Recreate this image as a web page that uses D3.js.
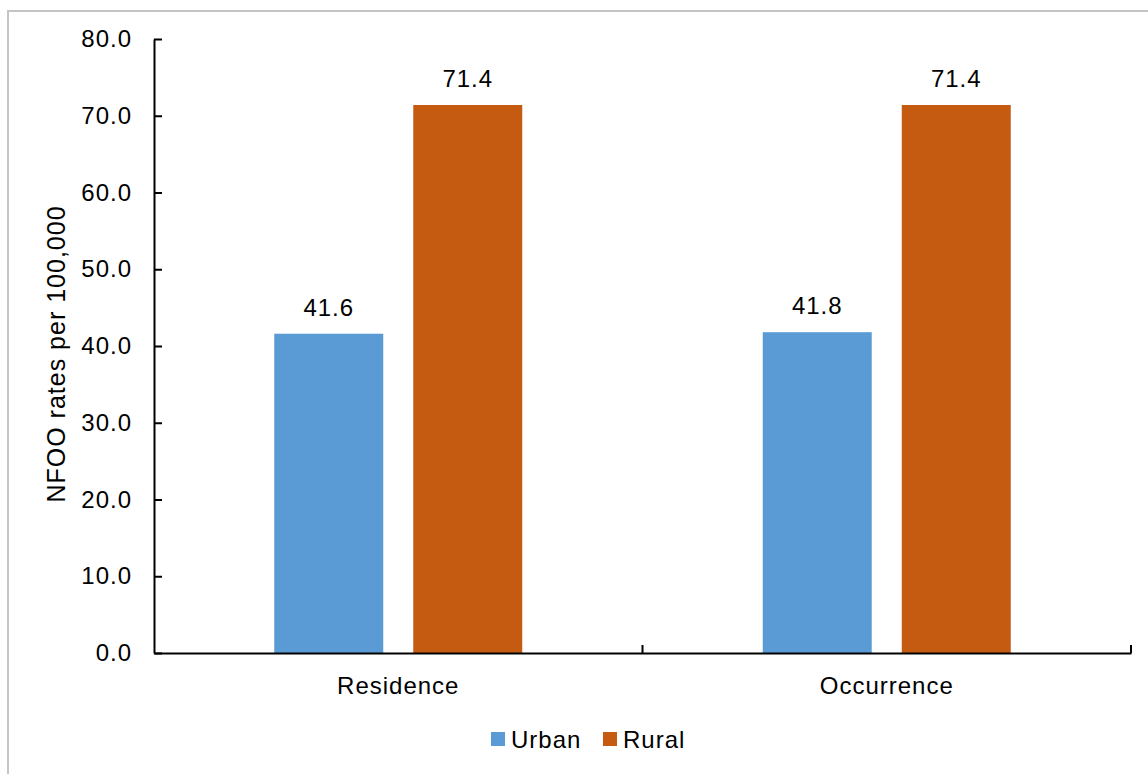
<!DOCTYPE html>
<html>
<head>
<meta charset="utf-8">
<script src="https://cdn.jsdelivr.net/npm/d3@7/dist/d3.min.js"></script>
<style>
  html, body { margin: 0; padding: 0; background: #fff; }
  svg { display: block; font-family: Arial, "Liberation Sans", sans-serif; }
  svg text { letter-spacing: 1px; }
</style>
</head>
<body>
<svg id="chart" width="1148" height="774"></svg>
<script>
// Place of residence vs. place of occurrence, NFOO rates per 100,000
const categories = ["Residence", "Occurrence"];
const seriesNames = ["Urban", "Rural"];
const urbanValues = [41.6, 41.8];
const ruralValues = [71.4, 71.4];
const yTicks = [0, 10, 20, 30, 40, 50, 60, 70, 80];
const colors = ["#5B9BD5", "#C55A11"];

const FONT = "Arial, 'Liberation Sans', sans-serif";
const svg = d3.select("#chart");

// outer frame
svg.append("rect")
  .attr("x", 8).attr("y", 11)
  .attr("width", 1200).attr("height", 820)
  .attr("fill", "none")
  .attr("stroke", "#c4c4c4")
  .attr("stroke-width", 2);

const plot = { left: 154, right: 1131, top: 39, bottom: 653 };
const groupWidth = 248;

const x = d3.scaleBand()
  .domain(categories)
  .range([plot.left, plot.right]);

const xInner = d3.scaleBand()
  .domain(seriesNames)
  .range([0, groupWidth])
  .paddingInner(0.216);

const y = d3.scaleLinear()
  .domain([0, 80])
  .range([plot.bottom, plot.top]);

const rows = categories.map((c, i) => ({
  category: c,
  values: [
    { series: "Urban", value: urbanValues[i] },
    { series: "Rural", value: ruralValues[i] }
  ]
}));

// bars
const groups = svg.append("g").selectAll("g")
  .data(rows)
  .join("g")
  .attr("transform", d => `translate(${x(d.category) + (x.bandwidth() - groupWidth) / 2},0)`);

groups.selectAll("rect")
  .data(d => d.values)
  .join("rect")
  .attr("x", d => xInner(d.series))
  .attr("y", d => y(d.value))
  .attr("width", xInner.bandwidth())
  .attr("height", d => y(0) - y(d.value))
  .attr("fill", (d, i) => colors[i]);

// value labels
groups.selectAll("text")
  .data(d => d.values)
  .join("text")
  .attr("x", d => xInner(d.series) + xInner.bandwidth() / 2)
  .attr("y", d => y(d.value) - 18)
  .attr("text-anchor", "middle")
  .attr("font-size", 24)
  .attr("fill", "#000")
  .text(d => d.value.toFixed(1));

// y axis
const yAxis = svg.append("g")
  .attr("transform", `translate(${plot.left},0)`)
  .call(d3.axisLeft(y).tickValues(yTicks).tickFormat(d3.format(".1f"))
    .tickSizeInner(-8).tickSizeOuter(0).tickPadding(22));
yAxis.select(".domain").attr("stroke", "#000").attr("stroke-width", 2);
yAxis.selectAll(".tick line").attr("stroke", "#000").attr("stroke-width", 2);
yAxis.selectAll(".tick text")
  .attr("font-size", 24)
  .attr("fill", "#000")
  .attr("font-family", FONT);

// x axis
const xAxis = svg.append("g")
  .attr("transform", `translate(0,${plot.bottom})`)
  .call(d3.axisBottom(x).tickSize(0).tickPadding(24));
xAxis.select(".domain").attr("stroke", "#000").attr("stroke-width", 2);
xAxis.selectAll(".tick text")
  .attr("font-size", 24)
  .attr("fill", "#000")
  .attr("font-family", FONT);

// category separators on the x axis
const sepPositions = [x(categories[1]), plot.right];
xAxis.selectAll(".sep")
  .data(sepPositions)
  .join("line")
  .attr("class", "sep")
  .attr("x1", d => d).attr("x2", d => d)
  .attr("y1", 0).attr("y2", -8)
  .attr("stroke", "#000")
  .attr("stroke-width", 2);

// y axis title
svg.append("text")
  .attr("transform", `translate(65,354) rotate(-90)`)
  .attr("text-anchor", "middle")
  .attr("font-size", 25)
  .attr("letter-spacing", "1.3px")
  .attr("fill", "#000")
  .text("NFOO rates per 100,000");

// legend
const legendItems = [
  { name: "Urban", x: 491, color: colors[0] },
  { name: "Rural", x: 603, color: colors[1] }
];
const legend = svg.append("g");
legend.selectAll("rect")
  .data(legendItems)
  .join("rect")
  .attr("x", d => d.x).attr("y", 732)
  .attr("width", 14).attr("height", 14)
  .attr("fill", d => d.color);
legend.selectAll("text")
  .data(legendItems)
  .join("text")
  .attr("x", d => d.x + 20)
  .attr("y", 748)
  .attr("font-size", 24)
  .attr("fill", "#000")
  .text(d => d.name);
</script>
</body>
</html>
